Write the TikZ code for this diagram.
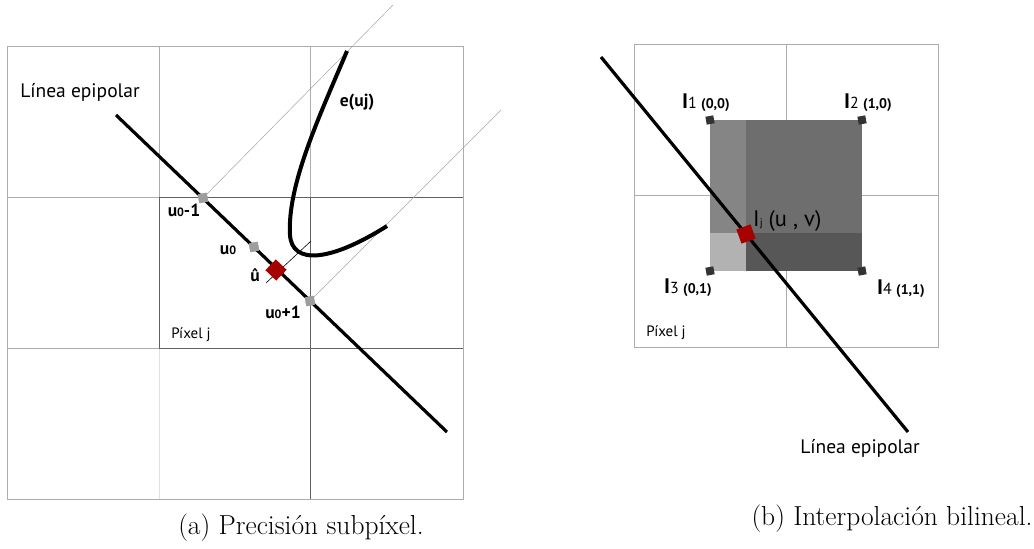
\documentclass[tikz,border=0pt]{standalone}
\usepackage{fontspec}
\setsansfont{PT Sans}
\begin{document}
\begin{tikzpicture}[x=1pt,y=-1pt,
  gridl/.style={draw=black!32,line width=0.8pt},
  gridd/.style={draw=black!62,line width=0.9pt},
  gridvl/.style={draw=black!12,line width=0.9pt},
  epi/.style={line width=3.2pt},
  guide/.style={draw=black!35,line width=0.5pt},
  gsq/.style={draw=none,fill=black!38,minimum size=9pt,inner sep=0pt,rotate=10},
  rsq/.style={draw=none,fill=red!65!black,minimum size=15pt,inner sep=0pt},
  csq/.style={draw=none,fill=black!80,minimum size=8pt,inner sep=0pt,rotate=10},
  lab/.style={font=\sffamily\bfseries\fontsize{17.5}{19}\selectfont,inner sep=0pt},
  txt/.style={font=\sffamily\fontsize{19.5}{22}\selectfont,inner sep=0pt},
  smalltxt/.style={font=\sffamily\fontsize{15}{17}\selectfont,inner sep=0pt},
  captxt/.style={font=\fontsize{27.5}{30}\selectfont,inner sep=0pt},
  ilab/.style={inner sep=0pt,anchor=base west}]
\useasboundingbox (0,0) rectangle (1034,549);
% ---------- left grid ----------
\draw[gridl] (7,46) rectangle (463,499);
\draw[gridl] (159,46) -- (159,197);
\draw[gridl] (310,46) -- (310,197);
\draw[gridl] (7,197) -- (159,197);
\draw[gridl] (7,348) -- (159,348);
\draw[gridvl] (159,348) -- (159,499);
\draw[gridd] (159,197) rectangle (310,348);
\draw[gridd] (310,197) -- (463,197);
\draw[gridd] (310,348) -- (463,348);
\draw[gridd] (310,348) -- (310,499);
% guide lines
\coordinate (g1) at (393,5);
\coordinate (g2) at (501,110);
\coordinate (ea) at (116,115);
\coordinate (eb) at (447,432);
\node[gsq] (um) at (203,198) {};
\node[gsq] (u0) at (254,247) {};
\node[gsq] (up) at (310,301) {};
\draw[guide] (um.center) -- (g1);
\draw[guide] (up.center) -- (g2);
\coordinate (p1) at (266,283);
\coordinate (p2) at (311,241);
\draw[line width=0.6pt] (p1) -- (p2);
\draw[epi] (ea) -- (eb);
\node[gsq] at (um) {};
\node[gsq] at (u0) {};
\node[gsq] at (up) {};
\node[rsq,rotate=46] (uh) at (276,270) {};
% curve
\coordinate (c1) at (347,51);
\coordinate (c2) at (290,235);
\coordinate (c3) at (387,226);
\draw[line width=4pt] (c1) .. controls (320,115) and (287,185) .. (c2)
   .. controls (292,265) and (330,262) .. (c3);
% labels
\node[txt] (le1) at (80,92) {Línea epipolar};
\node[lab] (eu) at (357,102) {e(uj)};
\node[lab] (lum) at (184,210) {u{\fontsize{12}{12}\selectfont 0}-1};
\node[lab] (lu0) at (228,250) {u{\fontsize{12}{12}\selectfont 0}};
\node[lab] (luh) at (255,275) {û};
\node[lab] (lup) at (283,312) {u{\fontsize{12}{12}\selectfont 0}+1};
\node[smalltxt] (pj1) at (191,335) {Píxel j};
\node[captxt] (capa) at (301,528) {(a) Precisión subpíxel.};
% ---------- right grid ----------
\draw[gridl] (634,44) rectangle (938,347);
\draw[gridl] (786,44) -- (786,347);
\draw[gridl] (634,195) -- (938,195);
\fill[black!48] (710,120) rectangle (746,233);
\fill[black!57] (746,120) rectangle (862,233);
\fill[black!30] (710,233) rectangle (746,271);
\fill[black!66] (746,233) rectangle (862,271);
\node[csq] (i1) at (710,120) {};
\node[csq] (i2) at (862,120) {};
\node[csq] (i3) at (710,271) {};
\node[csq] (i4) at (862,271) {};
\coordinate (ra) at (601,57);
\coordinate (rb) at (908,432);
\draw[epi] (ra) -- (rb);
\node[rsq,rotate=20] (ij) at (746,234) {};
\node[ilab] (li1) at (682,108) {\sffamily\bfseries\fontsize{21}{24}\selectfont I\mdseries\fontsize{16}{16}\selectfont 1 \bfseries\fontsize{14}{14}\selectfont(0,0)};
\node[ilab] (li2) at (844,108) {\sffamily\bfseries\fontsize{21}{24}\selectfont I\mdseries\fontsize{16}{16}\selectfont 2 \bfseries\fontsize{14}{14}\selectfont(1,0)};
\node[ilab] (li3) at (664,293) {\sffamily\bfseries\fontsize{21}{24}\selectfont I\mdseries\fontsize{16}{16}\selectfont 3 \bfseries\fontsize{14}{14}\selectfont(0,1)};
\node[ilab] (li4) at (877,294) {\sffamily\bfseries\fontsize{21}{24}\selectfont I\mdseries\fontsize{16}{16}\selectfont 4 \bfseries\fontsize{14}{14}\selectfont(1,1)};
\node[ilab] (lij) at (753,226) {\sffamily\fontsize{22.5}{24}\selectfont I{\fontsize{11}{12}\selectfont j} (u , v)};
\node[smalltxt] (pj2) at (666,333) {Píxel j};
\node[txt] (le2) at (860,448) {Línea epipolar};
\node[captxt] (capb) at (892,519) {(b) Interpolación bilineal.};
\end{tikzpicture}
\end{document}
